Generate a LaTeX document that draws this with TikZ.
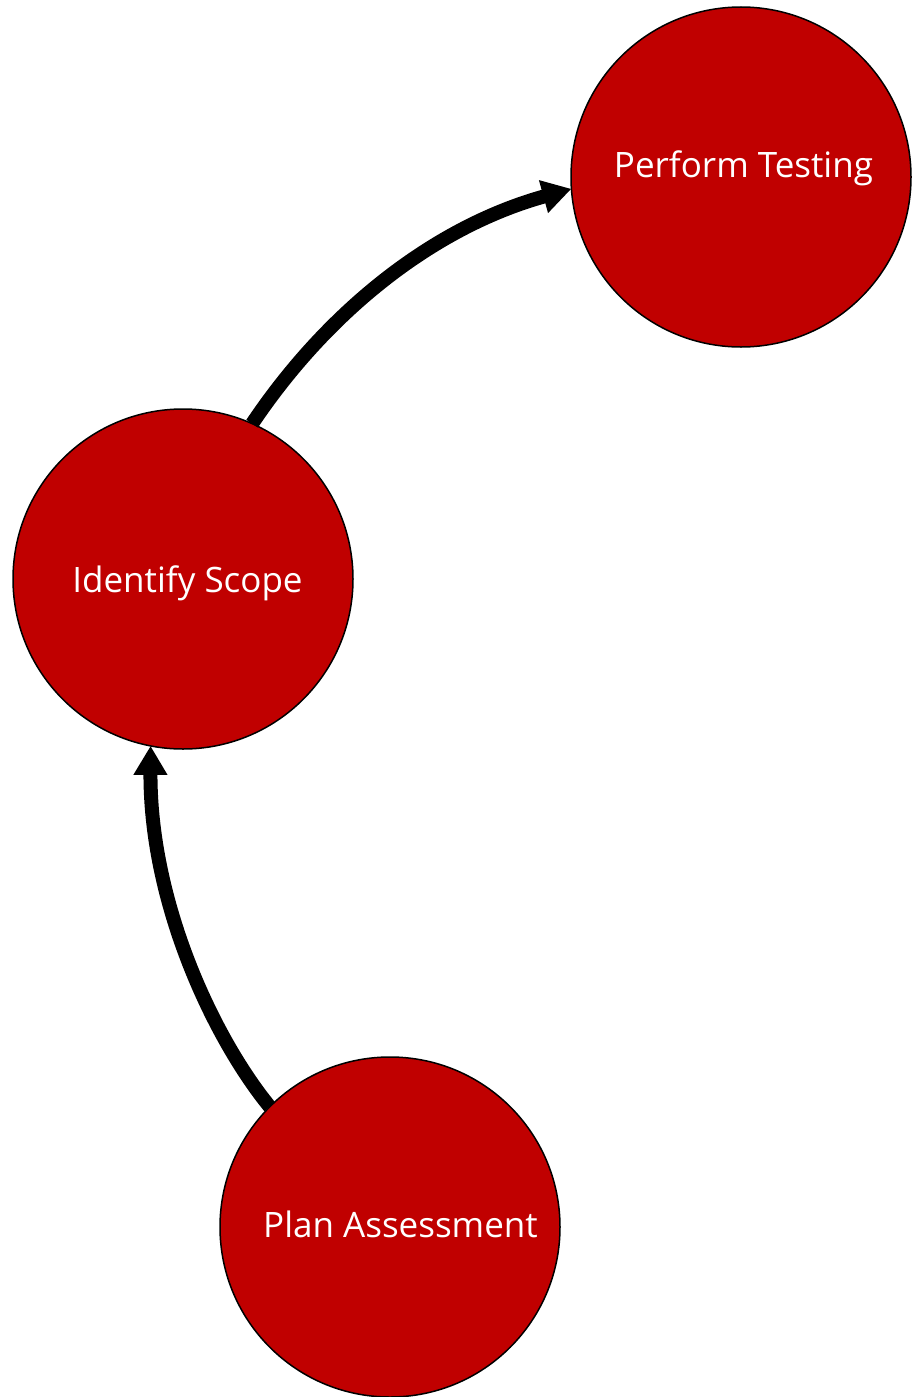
\documentclass[tikz,border=0pt]{standalone}
\usepackage{fontspec}
\setmainfont{Open Sans}
\usetikzlibrary{arrows.meta}
\definecolor{stepred}{HTML}{C00000}
\tikzset{
  stage/.style={circle, draw=black, line width=1.5pt, fill=stepred,
    minimum size=340pt, inner sep=0pt, outer sep=0pt},
  lbl/.style={text=white, font=\fontsize{35pt}{42pt}\selectfont, inner sep=0pt, anchor=base},
  flow/.style={line width=14pt, -{Triangle[length=29pt, width=32pt]}}
}
\begin{document}
\begin{tikzpicture}[x=1pt, y=-1pt]
  \useasboundingbox (0,0) rectangle (915,1397);
  % the three stages
  \node[stage] (test)  at (741,177)  {};
  \node[stage] (scope) at (183,579)  {};
  \node[stage] (plan)  at (390,1227) {};
  % labels, placed on their baselines
  \node[lbl] (testlbl)  at (743.5,177)  {Perform Testing};
  \node[lbl] (scopelbl) at (187.5,592)  {Identify Scope};
  \node[lbl] (planlbl)  at (400.5,1237) {Plan Assessment};
  % connectors
  \draw[flow] (plan.135.7) .. controls (215,1040) and (150,905) .. (scope.259);
  \draw[flow] (scope.66) .. controls (325,315) and (430,228) .. (test.184);
\end{tikzpicture}
\end{document}
